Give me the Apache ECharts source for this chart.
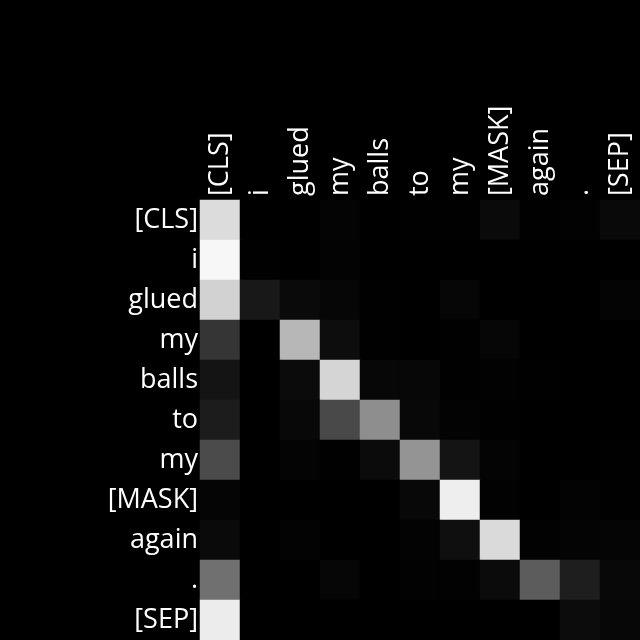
<!DOCTYPE html>
<html><head><meta charset="utf-8">
<script src="https://cdn.jsdelivr.net/npm/echarts@6/dist/echarts.min.js"></script>
<style>html,body{margin:0;padding:0;background:#000;}#c{width:640px;height:640px;}</style>
</head><body><div id="c"></div>
<script>
const xTokens = ['[CLS]','i','glued','my','balls','to','my','[MASK]','again','.','[SEP]'];
const yTokens = ['[CLS]','i','glued','my','balls','to','my','[MASK]','again','.','[SEP]'];
// attention intensity, 0 (black) .. 255 (white)
const row0  = [220, 0, 0, 4, 0, 1, 1, 10, 1, 2, 9];
const row1  = [247, 1, 0, 3, 0, 0, 0, 0, 0, 0, 0];
const row2  = [210, 24, 10, 6, 1, 0, 6, 0, 0, 0, 4];
const row3  = [53, 0, 183, 13, 1, 0, 1, 6, 0, 0, 0];
const row4  = [20, 0, 11, 213, 7, 7, 1, 2, 1, 0, 0];
const row5  = [28, 0, 8, 73, 142, 8, 3, 1, 0, 0, 0];
const row6  = [75, 0, 4, 1, 11, 148, 20, 4, 0, 0, 1];
const row7  = [5, 0, 0, 0, 0, 8, 238, 2, 0, 3, 1];
const row8  = [10, 0, 3, 0, 0, 3, 15, 218, 2, 4, 5];
const row9  = [112, 0, 0, 6, 0, 2, 2, 11, 92, 30, 8];
const row10 = [236, 0, 0, 0, 0, 0, 0, 0, 0, 12, 7];
const rows = [row0,row1,row2,row3,row4,row5,row6,row7,row8,row9,row10];

const data = [];
rows.forEach((r, yi) => r.forEach((v, xi) => data.push([xi, yi, v])));

const chart = echarts.init(document.getElementById('c'));
const font = '"Open Sans", "Noto Sans", sans-serif';
chart.setOption({
  backgroundColor: '#000',
  animation: false,
  grid: { left: 200, top: 200, right: 0, bottom: 0 },
  xAxis: {
    type: 'category', data: xTokens, position: 'top',
    axisLine: { show: false }, axisTick: { show: false }, splitLine: { show: false },
    axisLabel: { rotate: -90, color: '#fff', fontSize: 27, fontFamily: font, margin: 4, interval: 0 }
  },
  yAxis: {
    type: 'category', data: yTokens, inverse: true,
    axisLine: { show: false }, axisTick: { show: false }, splitLine: { show: false },
    axisLabel: { color: '#fff', fontSize: 27, fontFamily: font, margin: 2, interval: 0 }
  },
  visualMap: { show: false, min: 0, max: 255, inRange: { color: ['#000000', '#ffffff'] } },
  series: [{ type: 'heatmap', data: data, itemStyle: { borderWidth: 0 }, emphasis: { disabled: true } }]
});
</script></body></html>
